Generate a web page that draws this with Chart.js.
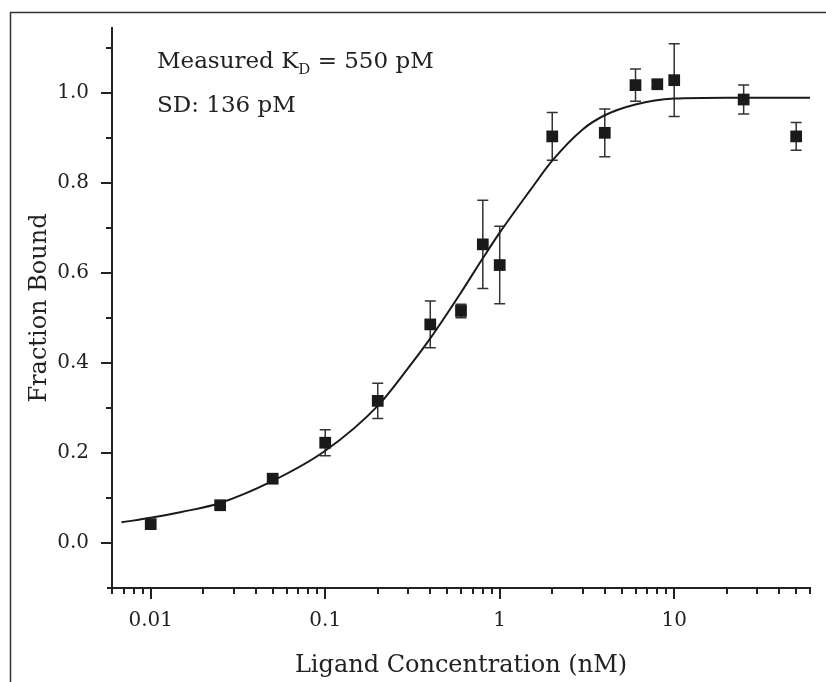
<!DOCTYPE html>
<html>
<head>
<meta charset="utf-8">
<script src="https://cdn.jsdelivr.net/npm/chart.js@4.4.1/dist/chart.umd.min.js"></script>
<style>
    html, body { margin: 0; padding: 0; background: #fff; }
    #wrap { position: relative; width: 826px; height: 682px; }
</style>
</head>
<body>
<div id="wrap"><canvas id="binding-chart" width="826" height="682"></canvas></div>
<script>
// Measured points (nM, fraction bound, +/- error)
const concentrations = [0.01, 0.025, 0.05, 0.1, 0.2, 0.4, 0.6, 0.8, 1, 2, 4, 6, 8, 10, 25, 50];
const fractionBound = [0.042, 0.084, 0.143, 0.223, 0.316, 0.486, 0.516, 0.664, 0.618, 0.904, 0.912, 1.018, 1.020, 1.029, 0.986, 0.904];
const errors = [0, 0, 0, 0.029, 0.039, 0.052, 0.015, 0.098, 0.086, 0.053, 0.053, 0.036, 0.008, 0.081, 0.032, 0.031];

// Fit curve
const fitConcentrations = [0.0068, 0.01, 0.015, 0.025, 0.05, 0.1, 0.2, 0.3, 0.4, 0.6, 0.8, 1, 1.5, 2, 3, 4, 6, 10, 20, 60];
const fitValues = [0.046, 0.056, 0.069, 0.089, 0.138, 0.205, 0.305, 0.39, 0.455, 0.557, 0.633, 0.69, 0.785, 0.85, 0.92, 0.951, 0.975, 0.988, 0.99, 0.99];

// Axis ticks
const xTickValues = [0.01, 0.1, 1, 10];
const xTickLabels = ['0.01', '0.1', '1', '10'];
const yTickValues = [0, 0.2, 0.4, 0.6, 0.8, 1.0];
const yTickLabels = ['0.0', '0.2', '0.4', '0.6', '0.8', '1.0'];

const FONT = '"DejaVu Serif", serif';
const INK = '#222';

// Frame around the panel (top + left edges only)
const framePlugin = {
    id: 'frame',
    beforeDraw(chart) {
        const ctx = chart.ctx;
        ctx.save();
        ctx.fillStyle = '#fff';
        ctx.fillRect(0, 0, chart.width, chart.height);
        ctx.strokeStyle = '#333';
        ctx.lineWidth = 1.5;
        ctx.beginPath();
        ctx.moveTo(10.5, chart.height);
        ctx.lineTo(10.5, 12.5);
        ctx.lineTo(chart.width, 12.5);
        ctx.stroke();
        ctx.restore();
    }
};

// Outward tick marks, long for labelled ticks
const tickMarkPlugin = {
    id: 'tickMarks',
    afterDraw(chart) {
        const ctx = chart.ctx;
        const area = chart.chartArea;
        const x = chart.scales.x;
        const y = chart.scales.y;
        ctx.save();
        ctx.strokeStyle = INK;
        ctx.lineWidth = 2;
        ctx.beginPath();
        // x axis line runs a little past the y axis, as in the original
        ctx.moveTo(area.left - 5, area.bottom);
        ctx.lineTo(area.left, area.bottom);
        x.ticks.forEach(t => {
            const px = Math.round(x.getPixelForValue(t.value));
            const len = t.major ? 11 : 6;
            ctx.moveTo(px, area.bottom);
            ctx.lineTo(px, area.bottom + len);
        });
        y.ticks.forEach(t => {
            const py = Math.round(y.getPixelForValue(t.value));
            const len = t.major ? 11 : 6;
            ctx.moveTo(area.left, py);
            ctx.lineTo(area.left - len, py);
        });
        ctx.stroke();
        ctx.restore();
    }
};

// Vertical error bars with caps
const errorBarPlugin = {
    id: 'errorBars',
    beforeDatasetsDraw(chart) {
        const ctx = chart.ctx;
        const x = chart.scales.x;
        const y = chart.scales.y;
        ctx.save();
        ctx.strokeStyle = '#333';
        ctx.lineWidth = 1.5;
        ctx.beginPath();
        concentrations.forEach((c, i) => {
            if (!errors[i]) return;
            const px = x.getPixelForValue(c);
            const top = y.getPixelForValue(fractionBound[i] + errors[i]);
            const bot = y.getPixelForValue(fractionBound[i] - errors[i]);
            ctx.moveTo(px, top);
            ctx.lineTo(px, bot);
            ctx.moveTo(px - 5.5, top);
            ctx.lineTo(px + 5.5, top);
            ctx.moveTo(px - 5.5, bot);
            ctx.lineTo(px + 5.5, bot);
        });
        ctx.stroke();
        ctx.restore();
    }
};

// K_D annotation in the upper left
const annotationPlugin = {
    id: 'kdNote',
    afterDraw(chart) {
        const ctx = chart.ctx;
        ctx.save();
        ctx.fillStyle = INK;
        ctx.textBaseline = 'alphabetic';
        ctx.font = '23px ' + FONT;
        let cx = 157;
        ctx.fillText('Measured K', cx, 68);
        cx += ctx.measureText('Measured K').width;
        ctx.font = '15px ' + FONT;
        ctx.fillText('D', cx, 74);
        cx += ctx.measureText('D').width;
        ctx.font = '23px ' + FONT;
        ctx.fillText(' = 550 pM', cx, 68);
        ctx.fillText('SD: 136 pM', 157, 112);
        ctx.restore();
    }
};

function buildLogTicks(scale) {
    const ticks = [];
    for (let e = -3; e <= 1; e++) {
        for (let s = 1; s <= 9; s++) {
            const v = Number((s * Math.pow(10, e)).toPrecision(3));
            if (v >= scale.min - 1e-9 && v <= scale.max + 1e-9) {
                ticks.push({ value: v, major: xTickValues.includes(v) });
            }
        }
    }
    scale.ticks = ticks;
}

new Chart(document.getElementById('binding-chart'), {
    type: 'scatter',
    data: {
        datasets: [{
            label: 'Measured',
            data: concentrations.map((c, i) => ({ x: c, y: fractionBound[i] })),
            pointStyle: 'rect',
            pointRadius: 8.3,
            pointBackgroundColor: '#1a1a1a',
            pointBorderColor: '#1a1a1a',
            pointBorderWidth: 0,
            showLine: false,
            order: 0
        }, {
            label: 'Fit',
            data: fitConcentrations.map((c, i) => ({ x: c, y: fitValues[i] })),
            showLine: true,
            borderColor: '#1a1a1a',
            borderWidth: 2,
            pointRadius: 0,
            cubicInterpolationMode: 'monotone',
            fill: false,
            order: 1
        }]
    },
    options: {
        responsive: false,
        devicePixelRatio: 1,
        animation: false,
        layout: {
            padding: { top: 28, right: 16, left: 0, bottom: 0 }
        },
        plugins: {
            legend: { display: false },
            tooltip: { enabled: false }
        },
        scales: {
            x: {
                type: 'logarithmic',
                min: 0.006,
                max: 60,
                afterBuildTicks: buildLogTicks,
                afterFit: function(scale) { scale.height = 94; },
                grid: { display: false },
                border: { display: true, color: INK, width: 2 },
                ticks: {
                    autoSkip: false,
                    maxRotation: 0,
                    padding: 13,
                    color: INK,
                    font: { family: FONT, size: 20 },
                    callback: function(value) {
                        const idx = xTickValues.indexOf(Number(Number(value).toPrecision(3)));
                        return idx >= 0 ? xTickLabels[idx] : '';
                    }
                },
                title: {
                    display: true,
                    text: 'Ligand Concentration (nM)',
                    color: INK,
                    font: { family: FONT, size: 24 },
                    padding: { top: 0, bottom: 2 }
                }
            },
            y: {
                min: -0.1,
                max: 1.145,
                afterBuildTicks: function(scale) {
                    const ticks = [];
                    for (let k = 0; k <= 11; k++) {
                        const v = Number((k / 10).toFixed(1));
                        ticks.push({ value: v, major: k % 2 === 0 });
                    }
                    scale.ticks = ticks;
                },
                afterFit: function(scale) { scale.width = 112; },
                grid: { display: false },
                border: { display: true, color: INK, width: 2 },
                ticks: {
                    autoSkip: false,
                    padding: 15,
                    color: INK,
                    font: { family: FONT, size: 20 },
                    callback: function(value) {
                        const idx = yTickValues.findIndex(v => Math.abs(v - value) < 1e-6);
                        return idx >= 0 ? yTickLabels[idx] : '';
                    }
                },
                title: {
                    display: true,
                    text: 'Fraction Bound',
                    color: INK,
                    font: { family: FONT, size: 24 },
                    padding: { top: 25, bottom: 0 }
                }
            }
        }
    },
    plugins: [framePlugin, errorBarPlugin, tickMarkPlugin, annotationPlugin]
});
</script>
</body>
</html>
